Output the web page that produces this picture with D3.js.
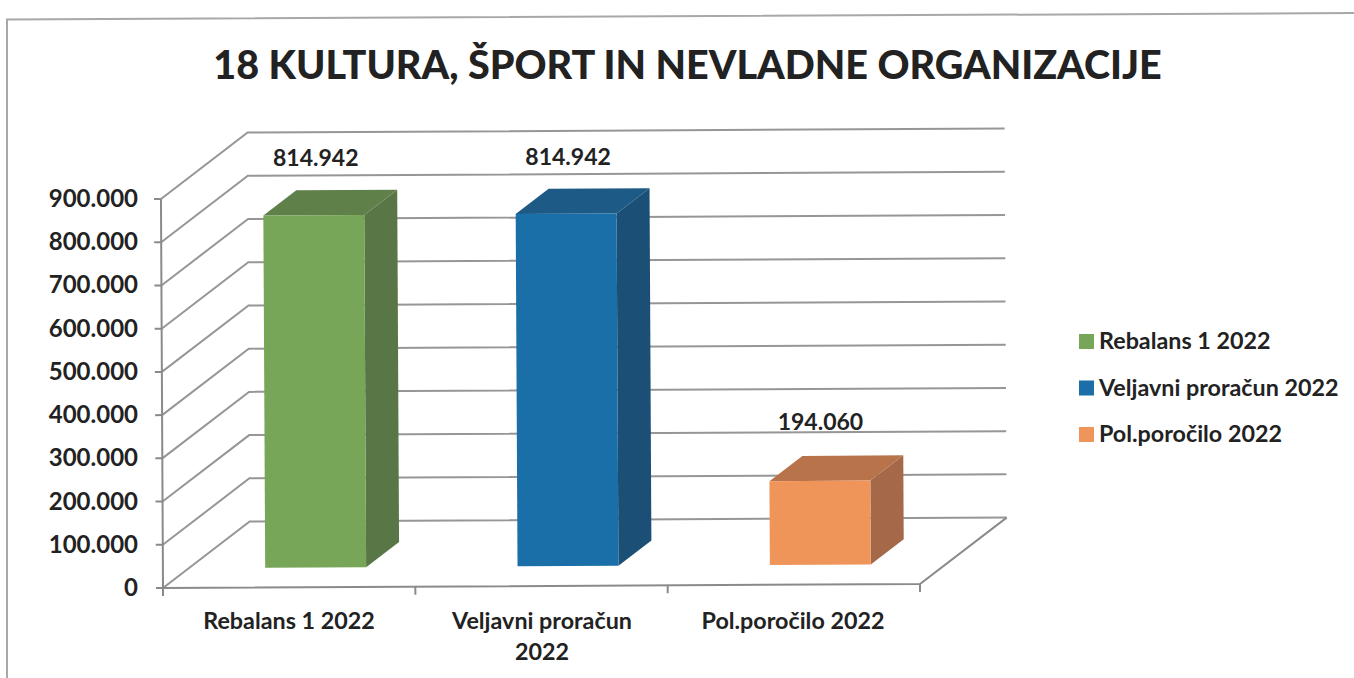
<!DOCTYPE html>
<meta charset='utf-8'>
<style>
    html, body { margin: 0; background: #fff; overflow: hidden; }
    text { font-family: Lato, 'Open Sans', sans-serif; fill: #222; }
</style>
<body>
    <script src='https://d3js.org/d3.v7.min.js'></script>
    <script>
        var categories = ['Rebalans 1 2022', 'Veljavni proračun 2022', 'Pol.poročilo 2022'];
        var values = [814942, 814942, 194060];
        var valueLabels = ['814.942', '814.942', '194.060'];
        var frontColors = ['#77a658', '#1a6fa8', '#f0955a'];
        var topColors = ['#5f8049', '#1d5a85', '#b8734a'];
        var sideColors = ['#597746', '#1b4f75', '#a5694a'];
        var yTicks = [0, 100000, 200000, 300000, 400000, 500000, 600000, 700000, 800000, 900000];

        var width = 1354,
            height = 678;

        // depth of the floor, and where the bars sit in it (share of the depth)
        var depthX = 87, depthY = -66;
        var barFrom = 0.3, barTo = 0.68;

        var svg = d3.select('body').append('svg')
            .attr('width', width)
            .attr('height', height);

        svg.append('path')
            .attr('d', 'M7,678V19.5L1354,13')
            .attr('fill', 'none')
            .attr('stroke', '#a8a8a8')
            .attr('stroke-width', 2);

        svg.append('text')
            .attr('x', 687.5).attr('y', 79)
            .attr('text-anchor', 'middle')
            .style('font-size', '39.5px').style('font-weight', 900)
            .text('18 KULTURA, ŠPORT IN NEVLADNE ORGANIZACIJE');

        var x = d3.scaleBand().domain(categories).range([163.5, 920.5])
            .paddingInner(0.6).paddingOuter(0.3);
        var y = d3.scaleLinear().domain([0, 900000]).range([588, 199]);

        // scan is slightly crooked, so the plot leans with it
        var plot = svg.append('g').attr('transform', 'rotate(-0.3 163 588)');

        // walls and floor lines
        plot.selectAll('path.grid').data(yTicks).enter().append('path')
            .attr('class', 'grid')
            .attr('fill', 'none')
            .attr('stroke', '#969696')
            .attr('stroke-width', 2)
            .attr('d', function(d) {
                return 'M163,' + y(d) + 'l' + depthX + ',' + depthY + 'H' + (920 + depthX);
            });

        plot.append('path')
            .attr('fill', 'none')
            .attr('stroke', '#8a8a8a')
            .attr('stroke-width', 2)
            .attr('d', 'M' + (920 + depthX) + ',' + (y(0) + depthY) + 'L920,' + y(0) + 'H163V' + y(900000));

        plot.selectAll('line.ytick').data(yTicks).enter().append('line')
            .attr('class', 'ytick')
            .attr('x1', 156).attr('x2', 163)
            .attr('y1', y).attr('y2', y)
            .attr('stroke', '#8a8a8a').attr('stroke-width', 2);

        plot.selectAll('line.xtick').data(d3.range(4)).enter().append('line')
            .attr('class', 'xtick')
            .attr('x1', function(d) { return 163 + d * x.step(); })
            .attr('x2', function(d) { return 163 + d * x.step(); })
            .attr('y1', 588).attr('y2', 596)
            .attr('stroke', '#8a8a8a').attr('stroke-width', 2);

        // bars
        var bars = plot.selectAll('g.bar').data(categories).enter().append('g').attr('class', 'bar');

        function box(i) {
            var fx = x(categories[i]) + barFrom * depthX;
            var by = y(0) + barFrom * depthY;
            return {
                l: fx,
                r: fx + x.bandwidth(),
                b: by,
                t: by - (y(0) - y(values[i])),
                dx: (barTo - barFrom) * depthX,
                dy: (barTo - barFrom) * depthY
            };
        }

        bars.append('path')
            .attr('fill', function(d, i) { return sideColors[i]; })
            .attr('d', function(d, i) {
                var b = box(i);
                return 'M' + b.r + ',' + b.t + 'l' + b.dx + ',' + b.dy + 'V' + (b.b + b.dy) + 'L' + b.r + ',' + b.b + 'Z';
            });
        bars.append('path')
            .attr('fill', function(d, i) { return topColors[i]; })
            .attr('d', function(d, i) {
                var b = box(i);
                return 'M' + b.l + ',' + b.t + 'l' + b.dx + ',' + b.dy + 'H' + (b.r + b.dx) + 'L' + b.r + ',' + b.t + 'Z';
            });
        bars.append('path')
            .attr('fill', function(d, i) { return frontColors[i]; })
            .attr('d', function(d, i) {
                var b = box(i);
                return 'M' + b.l + ',' + b.t + 'H' + b.r + 'V' + b.b + 'H' + b.l + 'Z';
            });

        // text
        svg.selectAll('text.ylab').data(yTicks).enter().append('text')
            .attr('class', 'ylab')
            .attr('x', 138)
            .attr('y', function(d) { return y(d) + 8; })
            .attr('text-anchor', 'end')
            .style('font-size', '24px').style('font-weight', 700)
            .text(function(d) { return d3.format(',')(d).replace(/,/g, '.'); });

        var labelY = [166, 165, 430];
        svg.selectAll('text.vlab').data(valueLabels).enter().append('text')
            .attr('class', 'vlab')
            .attr('x', function(d, i) { return box(i).l + x.bandwidth() / 2; })
            .attr('y', function(d, i) { return labelY[i]; })
            .attr('text-anchor', 'middle')
            .style('font-size', '23px').style('font-weight', 700)
            .text(function(d) { return d; });

        var catLines = [['Rebalans 1 2022'], ['Veljavni proračun', '2022'], ['Pol.poročilo 2022']];
        var catX = [289, 542, 793];
        catLines.forEach(function(lines, i) {
            lines.forEach(function(s, j) {
                svg.append('text')
                    .attr('x', catX[i]).attr('y', 628.5 + j * 31)
                    .attr('text-anchor', 'middle')
                    .style('font-size', '23.3px').style('font-weight', 700)
                    .text(s);
            });
        });

        // legend
        var legend = svg.selectAll('g.legend').data(categories).enter().append('g')
            .attr('class', 'legend')
            .attr('transform', function(d, i) { return 'translate(1079,' + (334 + i * 46.5) + ')'; });
        legend.append('rect')
            .attr('width', 15).attr('height', 15)
            .attr('fill', function(d, i) { return frontColors[i]; });
        legend.append('text')
            .attr('x', 20).attr('y', 15)
            .style('font-size', '23.3px').style('font-weight', 700)
            .text(function(d) { return d; });
    </script>
</body>
